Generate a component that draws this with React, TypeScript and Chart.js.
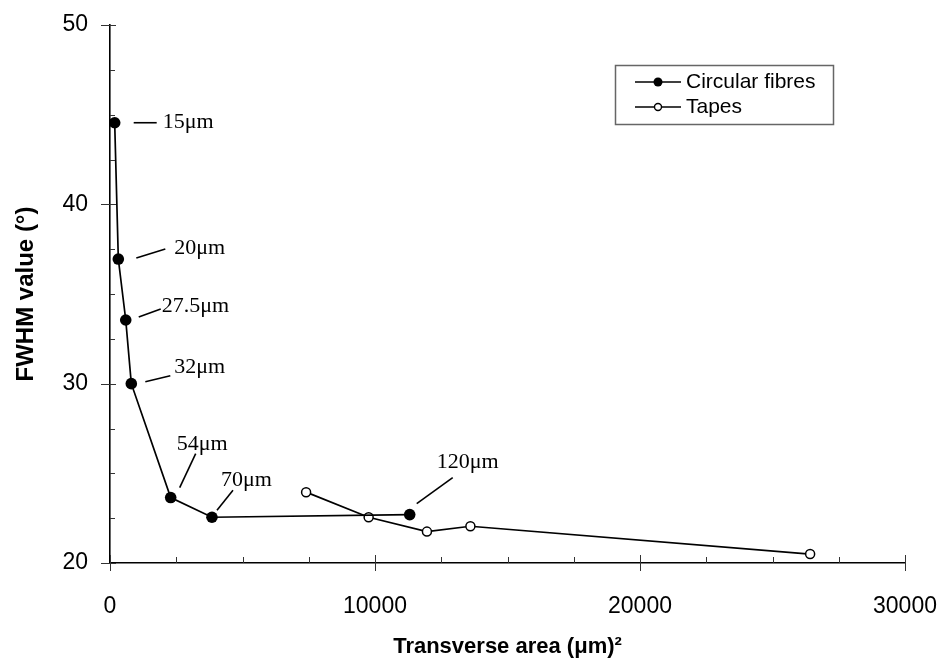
import React, { useEffect, useRef } from "react";
import { Chart, registerables } from "chart.js";

Chart.register(...registerables);

// Circular fibres: diameter label, transverse area (µm²), FWHM (degrees)
const fibreDiameters = ["15μm", "20μm", "27.5μm", "32μm", "54μm", "70μm", "120μm"];
const fibreAreas = [177, 314, 594, 804, 2290, 3848, 11310];
const fibreFwhm = [44.55, 36.95, 33.55, 30.0, 23.65, 22.55, 22.7];

// Tapes: transverse area (µm²), FWHM (degrees)
const tapeAreas = [7400, 9760, 11960, 13600, 26420];
const tapeFwhm = [23.95, 22.55, 21.75, 22.05, 20.5];

const seriesNames = ["Circular fibres", "Tapes"];

// Axis ranges and tick spacing
const xRange = [0, 30000];
const yRange = [20, 50];
const xMajorStep = 10000;
const xMinorStep = 2500;
const yMajorStep = 10;
const yMinorStep = 2.5;

// Leader line start/end and text anchor, in pixels relative to each fibre point
const leaderOffsets = [
  { l0: [19, 0], l1: [42, 0], t: [48, -1] },
  { l0: [18, -1], l1: [47, -10], t: [56, -11] },
  { l0: [13, -3], l1: [35, -11], t: [36, -14] },
  { l0: [14, -2], l1: [39, -8], t: [43, -16] },
  { l0: [9, -10], l1: [25, -44], t: [6, -53] },
  { l0: [5, -7], l1: [21, -27], t: [9, -37] },
  { l0: [7, -11], l1: [43, -37], t: [27, -52] },
];

const SANS = '"Liberation Sans", Arial, sans-serif';
const SERIF = '"Liberation Serif", "Times New Roman", serif';

const tickMarks = {
  id: "tickMarks",
  afterDraw(chart: any) {
    const { ctx, chartArea: a } = chart;
    const x = chart.scales.x;
    const y = chart.scales.y;
    ctx.save();
    ctx.strokeStyle = "#333";
    ctx.lineWidth = 1;
    for (let v = xRange[0]; v <= xRange[1] + 1e-6; v += xMinorStep) {
      const px = Math.round(x.getPixelForValue(v)) + 0.5;
      const major = Math.abs(v % xMajorStep) < 1e-6;
      ctx.beginPath();
      ctx.moveTo(px, a.bottom + (major ? 8 : 0));
      ctx.lineTo(px, a.bottom - (major ? 8 : 6));
      ctx.stroke();
    }
    for (let v = yRange[0]; v <= yRange[1] + 1e-6; v += yMinorStep) {
      const py = Math.round(y.getPixelForValue(v)) + 0.5;
      const major = Math.abs(v % yMajorStep) < 1e-6;
      ctx.beginPath();
      ctx.moveTo(a.left - (major ? 9 : 0), py);
      ctx.lineTo(a.left + (major ? 6 : 5), py);
      ctx.stroke();
    }
    ctx.restore();
  },
};

const diameterLabels = {
  id: "diameterLabels",
  afterDatasetsDraw(chart: any) {
    const { ctx } = chart;
    const x = chart.scales.x;
    const y = chart.scales.y;
    ctx.save();
    ctx.strokeStyle = "#000";
    ctx.lineWidth = 1.6;
    ctx.fillStyle = "#000";
    ctx.font = `22px ${SERIF}`;
    ctx.textAlign = "left";
    ctx.textBaseline = "middle";
    fibreDiameters.forEach((label, i) => {
      const px = x.getPixelForValue(fibreAreas[i]);
      const py = y.getPixelForValue(fibreFwhm[i]);
      const o = leaderOffsets[i];
      ctx.beginPath();
      ctx.moveTo(px + o.l0[0], py + o.l0[1]);
      ctx.lineTo(px + o.l1[0], py + o.l1[1]);
      ctx.stroke();
      ctx.fillText(label, px + o.t[0], py + o.t[1]);
    });
    ctx.restore();
  },
};

const boxedLegend = {
  id: "boxedLegend",
  afterDraw(chart: any) {
    const { ctx, chartArea: a } = chart;
    const left = a.right - 290;
    const top = a.top + 40;
    const w = 218;
    const h = 59;
    ctx.save();
    ctx.strokeStyle = "#666";
    ctx.lineWidth = 1.5;
    ctx.strokeRect(left + 0.5, top + 0.5, w, h);
    const rows = [top + 17, top + 42];
    ctx.font = `21px ${SANS}`;
    ctx.textBaseline = "middle";
    ctx.textAlign = "left";
    seriesNames.forEach((name, i) => {
      const ry = rows[i];
      ctx.strokeStyle = "#000";
      ctx.lineWidth = 1.6;
      ctx.beginPath();
      ctx.moveTo(left + 20, ry);
      ctx.lineTo(left + 66, ry);
      ctx.stroke();
      ctx.beginPath();
      if (i === 0) {
        ctx.arc(left + 43, ry, 4.5, 0, Math.PI * 2);
        ctx.fillStyle = "#000";
        ctx.fill();
      } else {
        ctx.arc(left + 43, ry, 3.5, 0, Math.PI * 2);
        ctx.fillStyle = "#fff";
        ctx.fill();
        ctx.lineWidth = 1.4;
        ctx.stroke();
      }
      ctx.fillStyle = "#000";
      ctx.fillText(name, left + 71, ry);
    });
    ctx.restore();
  },
};

export default function App() {
  const canvasRef = useRef<HTMLCanvasElement | null>(null);

  useEffect(() => {
    if (!canvasRef.current) return;
    const chart = new Chart(canvasRef.current, {
      type: "scatter",
      data: {
        datasets: [
          {
            label: seriesNames[0],
            data: fibreAreas.map((a, i) => ({ x: a, y: fibreFwhm[i] })),
            showLine: true,
            borderColor: "#000",
            borderWidth: 1.7,
            tension: 0,
            pointRadius: 5.8,
            pointBackgroundColor: "#000",
            pointBorderColor: "#000",
            pointBorderWidth: 0,
          },
          {
            label: seriesNames[1],
            data: tapeAreas.map((a, i) => ({ x: a, y: tapeFwhm[i] })),
            showLine: true,
            borderColor: "#000",
            borderWidth: 1.7,
            tension: 0,
            pointRadius: 4.5,
            pointBackgroundColor: "#fff",
            pointBorderColor: "#000",
            pointBorderWidth: 1.5,
          },
        ],
      },
      options: {
        animation: false,
        responsive: true,
        maintainAspectRatio: false,
        layout: { padding: { top: 25, right: 41, left: 0, bottom: 0 } },
        plugins: {
          legend: { display: false },
          tooltip: { enabled: false },
        },
        scales: {
          x: {
            type: "linear",
            min: xRange[0],
            max: xRange[1],
            grid: { display: false, drawTicks: false },
            border: { display: true, color: "#000", width: 1.6 },
            ticks: {
              stepSize: xMajorStep,
              color: "#000",
              padding: 30,
              maxRotation: 0,
              autoSkip: false,
              font: { family: SANS, size: 23 },
              callback: (v: any) => String(v),
            },
            title: {
              display: true,
              text: "Transverse area (μm)²",
              color: "#000",
              font: { family: SANS, size: 22, weight: "bold" },
              padding: { top: 0, bottom: 5 },
            },
            afterFit: (s: any) => {
              s.height = 102;
              s.paddingLeft = 0;
              s.paddingRight = 0;
            },
          },
          y: {
            type: "linear",
            min: yRange[0],
            max: yRange[1],
            grid: { display: false, drawTicks: false },
            border: { display: true, color: "#000", width: 1.6 },
            ticks: {
              stepSize: yMajorStep,
              color: "#000",
              padding: 22,
              font: { family: SANS, size: 23 },
              callback: (v: any) => String(v),
            },
            title: {
              display: true,
              text: "FWHM value (°)",
              color: "#000",
              font: { family: SANS, size: 24, weight: "bold" },
              padding: { top: 12, bottom: 0 },
            },
            afterFit: (s: any) => {
              s.width = 110;
              s.paddingTop = 0;
              s.paddingBottom = 0;
            },
          },
        },
      },
      plugins: [tickMarks, diameterLabels, boxedLegend],
    });
    return () => chart.destroy();
  }, []);

  return (
    <div style={{ position: "fixed", left: 0, top: 0, width: 946, height: 665, background: "#fff" }}>
      <canvas ref={canvasRef} />
    </div>
  );
}
